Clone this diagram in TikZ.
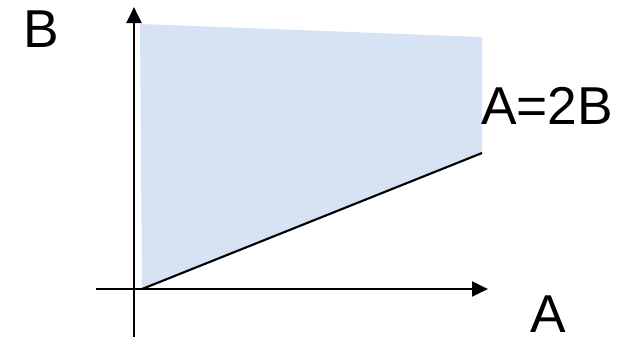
\documentclass[tikz,border=0pt]{standalone}
\usepackage{fontspec}
\setmainfont{Liberation Sans}
\usetikzlibrary{arrows.meta,positioning}

\begin{document}
\begin{tikzpicture}[
    x=0.75pt, y=-0.75pt,
    axis/.style={line width=2.2pt, -{Triangle[length=12pt, width=11pt]}},
    region/.style={fill={rgb,255:red,214;green,227;blue,245}, draw=none},
    bound/.style={line width=1.6pt},
    lbl/.style={font=\fontsize{40}{42}\selectfont, inner sep=0pt}
]
\useasboundingbox (0,0) rectangle (628,343);

% Corners of the shaded region
\coordinate (origin) at (142,289);
\coordinate (topleft) at (140,24);
\coordinate (topright) at (482,37);
\coordinate (lineend) at (482,153);

% Shaded region
\fill [region] (origin) -- (topleft) -- (topright) -- (lineend) -- cycle;

% Axes
\coordinate (ybot) at (134,337);
\coordinate (ytop) at (134,7);
\coordinate (xleft) at (96,289);
\coordinate (xright) at (488,289);
\draw [axis] (ybot) -- (ytop);
\draw [axis] (xleft) -- (xright);

% Boundary line
\draw [bound] (origin) -- (lineend);

% Labels
\node (blabel) [lbl] at (41,29) {B};
\node (alabel) [lbl] at (548,314) {A};
\node (linelabel) [lbl] at (547,106) {A=2B};

\end{tikzpicture}
\end{document}
